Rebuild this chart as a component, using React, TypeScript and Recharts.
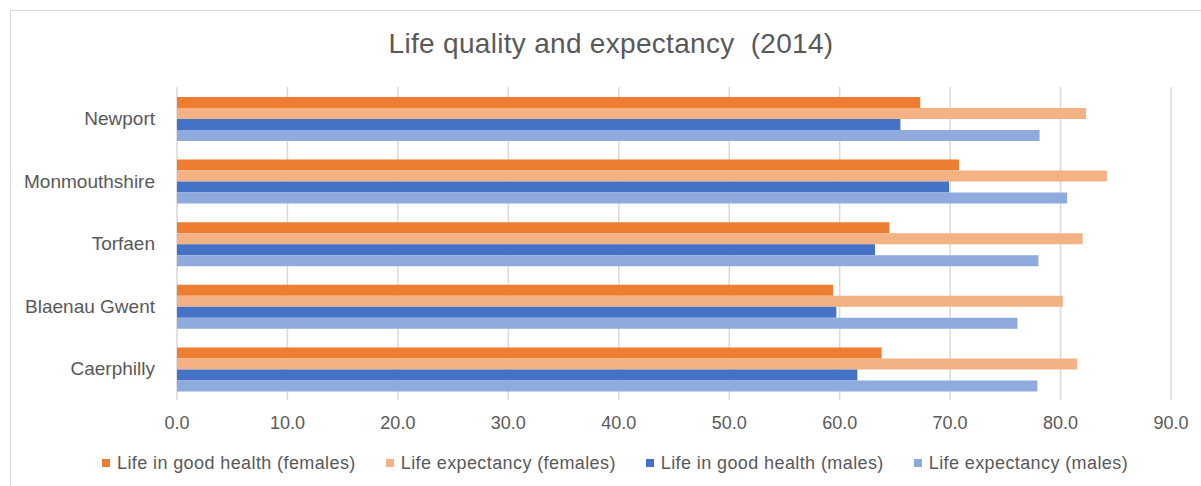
import { BarChart, Bar, XAxis, YAxis, CartesianGrid, Legend } from "recharts";

const areas = ["Newport", "Monmouthshire", "Torfaen", "Blaenau Gwent", "Caerphilly"];
const healthFemales = [67.3, 70.8, 64.5, 59.4, 63.8];
const lifeFemales = [82.3, 84.2, 82.0, 80.2, 81.5];
const healthMales = [65.5, 69.9, 63.2, 59.7, 61.6];
const lifeMales = [78.1, 80.6, 78.0, 76.1, 77.9];
const xTicks = [0, 10, 20, 30, 40, 50, 60, 70, 80, 90];

const series = [
  { key: "healthF", name: "Life in good health (females)", color: "#ED7D31" },
  { key: "lifeF", name: "Life expectancy (females)", color: "#F4B183" },
  { key: "healthM", name: "Life in good health (males)", color: "#4472C4" },
  { key: "lifeM", name: "Life expectancy (males)", color: "#8FAADC" },
];

const data = areas.map((name, i) => ({
  name,
  healthF: healthFemales[i],
  lifeF: lifeFemales[i],
  healthM: healthMales[i],
  lifeM: lifeMales[i],
}));

const FONT = "'Liberation Sans', Arial, sans-serif";
const TEXT = "#595959";

const renderLegend = () => (
  <div
    style={{
      display: "flex",
      justifyContent: "center",
      fontFamily: FONT,
      fontSize: 18,
      letterSpacing: 0.4,
      color: TEXT,
      lineHeight: "24px",
    }}
  >
    {series.map((s, i) => (
      <div
        key={s.key}
        style={{ display: "flex", alignItems: "center", marginLeft: i === 0 ? 0 : 30 }}
      >
        <span
          style={{ width: 8, height: 8, background: s.color, marginRight: 7, display: "inline-block" }}
        />
        <span>{s.name}</span>
      </div>
    ))}
  </div>
);

export default function App() {
  return (
    <div
      style={{
        position: "fixed",
        left: 0,
        top: 0,
        width: 1201,
        height: 486,
        overflow: "hidden",
        background: "#fff",
      }}
    >
      <div
        style={{
          position: "absolute",
          left: 10,
          top: 10,
          width: 1200,
          height: 490,
          border: "1px solid #d9d9d9",
        }}
      />
      <div
        style={{
          position: "absolute",
          left: 0,
          top: 30,
          width: 1222,
          textAlign: "center",
          fontFamily: FONT,
          fontSize: 28,
          lineHeight: "28px",
          letterSpacing: 0.3,
          color: TEXT,
          whiteSpace: "pre",
        }}
      >
        {"Life quality and expectancy  (2014)"}
      </div>
      <div style={{ position: "absolute", left: 0, top: 0 }}>
        <BarChart
          width={1201}
          height={486}
          data={data}
          layout="vertical"
          margin={{ top: 87, right: 30, bottom: 46, left: 0 }}
          barCategoryGap="16%"
          barGap={0}
        >
          <CartesianGrid horizontal={false} stroke="#d9d9d9" strokeWidth={1.5} />
          <XAxis
            type="number"
            domain={[0, 90]}
            ticks={xTicks}
            tickFormatter={(v: number) => v.toFixed(1)}
            axisLine={false}
            tickLine={false}
            tickSize={0}
            tickMargin={16.5}
            height={40}
            tick={{ fontSize: 18, fill: TEXT, fontFamily: FONT }}
          />
          <YAxis
            type="category"
            dataKey="name"
            width={177}
            axisLine={false}
            tickLine={false}
            tickSize={0}
            tickMargin={22}
            tick={{ fontSize: 19, fill: TEXT, fontFamily: FONT }}
          />
          <Legend
            verticalAlign="middle"
            align="center"
            content={renderLegend}
            wrapperStyle={{ top: 451, left: 0, width: 1230 }}
          />
          {series.map((s) => (
            <Bar
              key={s.key}
              dataKey={s.key}
              name={s.name}
              fill={s.color}
              isAnimationActive={false}
            />
          ))}
        </BarChart>
      </div>
    </div>
  );
}
